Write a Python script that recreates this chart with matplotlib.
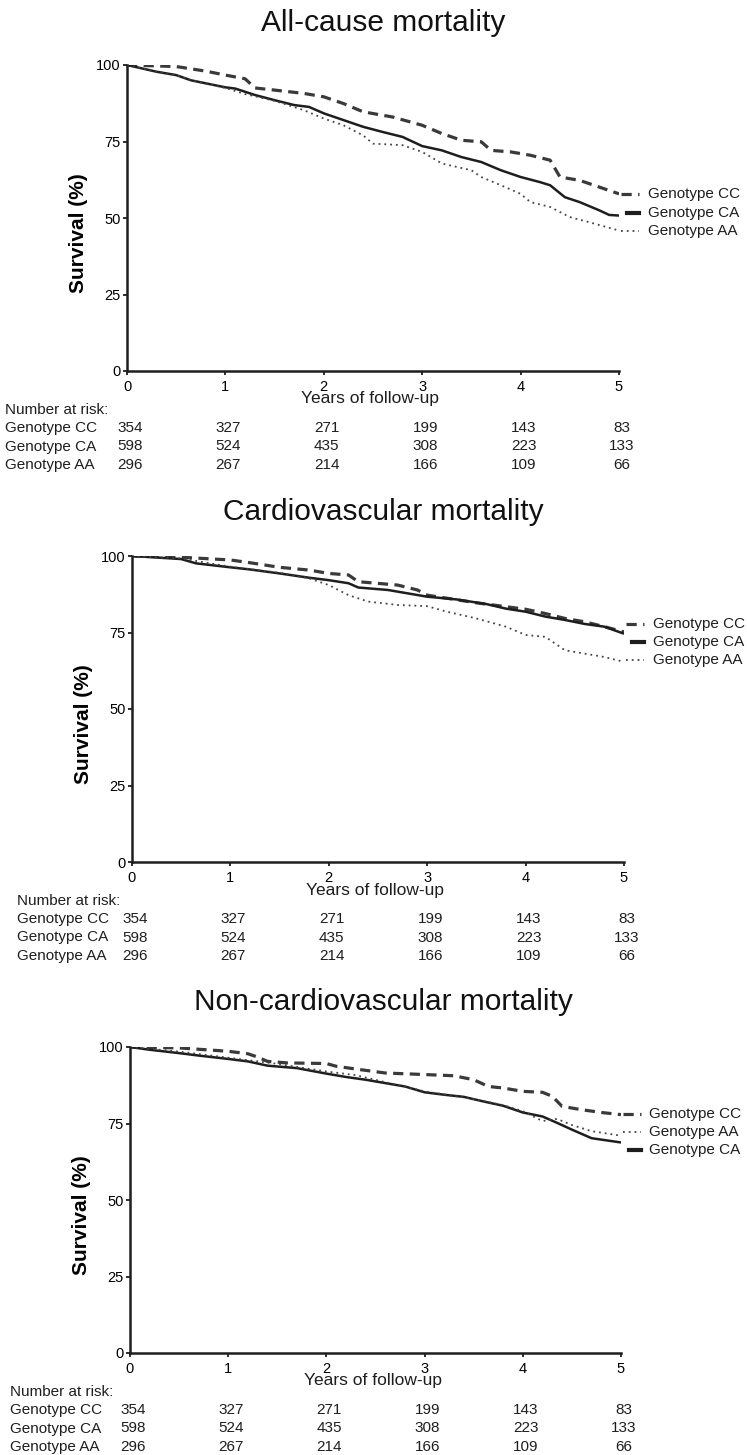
import matplotlib
matplotlib.use("Agg")
import matplotlib.pyplot as plt
import matplotlib.transforms as mtransforms

plt.rcParams['font.family'] = ['Liberation Sans', 'DejaVu Sans']

titles = ['All-cause mortality', 'Cardiovascular mortality', 'Non-cardiovascular mortality']
groups = ['Genotype CC', 'Genotype CA', 'Genotype AA']
risk_cc = [354, 327, 271, 199, 143, 83]
risk_ca = [598, 524, 435, 308, 223, 133]
risk_aa = [296, 267, 214, 166, 109, 66]
years = [0, 1, 2, 3, 4, 5]

# all-cause
t_cc1 = [0, 0.2, 0.5, 0.8, 1.0, 1.2, 1.3, 1.5, 1.8, 2.0, 2.2, 2.4, 2.7, 3.0, 3.2, 3.4, 3.6, 3.7, 3.9, 4.1, 4.3, 4.4, 4.6, 4.8, 5.0]
s_cc1 = [100, 99.8, 99.5, 98.0, 96.7, 95.5, 92.5, 91.8, 90.7, 89.6, 87.4, 84.7, 83.0, 80.3, 77.6, 75.4, 74.9, 72.1, 71.6, 70.5, 68.9, 63.4, 62.3, 60.1, 57.9]
t_ca1 = [0, 0.3, 0.5, 0.65, 1.0, 1.1, 1.3, 1.5, 1.7, 1.85, 2.0, 2.2, 2.4, 2.6, 2.8, 3.0, 3.2, 3.4, 3.6, 3.8, 4.0, 4.2, 4.3, 4.45, 4.6, 4.8, 4.9, 5.0]
s_ca1 = [100, 97.8, 96.7, 95.0, 92.7, 92.3, 90.2, 88.5, 86.9, 86.3, 84.2, 82.0, 79.8, 78.1, 76.5, 73.5, 72.1, 69.9, 68.3, 65.6, 63.4, 61.7, 60.7, 56.8, 55.2, 52.5, 51.0, 50.8]
t_aa1 = [0, 0.3, 0.5, 0.65, 1.0, 1.2, 1.5, 1.8, 2.0, 2.2, 2.4, 2.5, 2.8, 3.0, 3.2, 3.5, 3.6, 3.8, 4.0, 4.1, 4.3, 4.5, 4.7, 5.0]
s_aa1 = [100, 97.8, 96.7, 95.0, 92.5, 90.5, 88.3, 85.2, 82.5, 80.3, 77.0, 74.3, 73.8, 71.6, 67.8, 65.6, 63.4, 60.7, 57.9, 55.2, 53.6, 50.3, 48.6, 45.9]

# cardiovascular
t_cc2 = [0, 0.5, 1.0, 1.2, 1.5, 1.8, 2.0, 2.2, 2.3, 2.7, 2.9, 3.0, 3.5, 4.0, 4.2, 4.4, 4.6, 4.8, 5.0]
s_cc2 = [100, 99.6, 98.7, 97.8, 96.3, 95.4, 94.3, 93.8, 91.6, 90.5, 88.9, 87.2, 84.7, 82.6, 81.2, 79.6, 78.5, 76.9, 75.2]
t_ca2 = [0, 0.5, 0.65, 1.0, 1.2, 1.5, 1.8, 2.0, 2.2, 2.3, 2.6, 2.8, 3.0, 3.3, 3.6, 3.8, 4.0, 4.2, 4.4, 4.6, 4.8, 5.0]
s_ca2 = [100, 99.0, 97.6, 96.3, 95.6, 94.3, 92.9, 92.1, 91.1, 89.7, 88.9, 87.8, 86.7, 85.8, 84.3, 82.8, 81.8, 80.2, 79.1, 77.8, 76.9, 74.6]
t_aa2 = [0, 0.5, 1.0, 1.5, 1.8, 2.0, 2.2, 2.4, 2.7, 3.0, 3.2, 3.5, 3.8, 4.0, 4.2, 4.4, 4.6, 4.8, 5.0]
s_aa2 = [100, 99.2, 96.5, 94.5, 92.7, 90.5, 87.2, 85.1, 84.0, 83.6, 81.8, 79.6, 76.9, 74.2, 73.6, 69.2, 68.1, 67.0, 65.4]

# non-cardiovascular
t_cc3 = [0, 0.5, 1.0, 1.2, 1.3, 1.4, 1.6, 2.0, 2.1, 2.3, 2.6, 3.0, 3.3, 3.5, 3.65, 3.8, 4.0, 4.2, 4.3, 4.4, 4.6, 4.8, 5.0]
s_cc3 = [100, 99.7, 98.6, 97.8, 96.7, 95.3, 94.8, 94.6, 93.7, 92.8, 91.5, 91.0, 90.6, 89.3, 87.1, 86.6, 85.5, 85.2, 83.9, 80.6, 79.5, 78.6, 77.9]
t_ca3 = [0, 0.2, 0.5, 0.7, 1.0, 1.2, 1.4, 1.7, 2.0, 2.2, 2.4, 2.6, 2.8, 3.0, 3.2, 3.4, 3.6, 3.8, 4.0, 4.2, 4.35, 4.5, 4.7, 4.85, 5.0]
s_ca3 = [100, 99.1, 98.0, 97.2, 96.1, 95.3, 93.9, 93.1, 91.3, 90.2, 89.3, 88.2, 87.1, 85.2, 84.4, 83.7, 82.2, 80.8, 78.6, 77.3, 75.2, 73.0, 70.2, 69.5, 68.8]
t_aa3 = [0, 0.5, 1.0, 1.5, 2.0, 2.3, 2.6, 3.0, 3.5, 3.8, 4.0, 4.2, 4.35, 4.5, 4.7, 5.0]
s_aa3 = [100, 98.5, 96.5, 94.5, 92.0, 90.8, 88.5, 85.5, 83.0, 81.0, 79.0, 75.8, 76.5, 74.5, 72.5, 71.0]

curves = [
    [(t_cc1, s_cc1), (t_ca1, s_ca1), (t_aa1, s_aa1)],
    [(t_cc2, s_cc2), (t_ca2, s_ca2), (t_aa2, s_aa2)],
    [(t_cc3, s_cc3), (t_ca3, s_ca3), (t_aa3, s_aa3)],
]
# y of the end labels (CC, CA, AA)
label_y = [[58.0, 51.6, 45.7], [77.7, 71.8, 66.0], [78.2, 66.2, 72.1]]

W, H = 747, 1455
fig = plt.figure(figsize=(W / 100, H / 100), dpi=100)

ink = '#1e1e1e'
styles = [
    dict(color='#3a3a3a', lw=2.3, dashes=(3.2, 2.0)),
    dict(color=ink, lw=1.8, linestyle='-'),
    dict(color='#444444', lw=1.3, dashes=(1.0, 2.2)),
]

# axes boxes in pixels: left, right, top, bottom
boxes = [(127, 619, 65, 371), (132, 624, 556, 862), (130, 621, 1047, 1353)]
title_y = [23, 512, 1002]
table_x = [5, 17, 10]

for k, (l, r, t, b) in enumerate(boxes):
    ax = fig.add_axes([l / W, 1 - b / H, (r - l) / W, (b - t) / H])
    ah = b - t
    for (tt, ss), st in zip(curves[k], styles):
        ax.plot(tt, ss, solid_capstyle='butt', **st)
    ax.set_xlim(0, 5)
    ax.set_ylim(0, 100)
    for side in ['top', 'right']:
        ax.spines[side].set_visible(False)
    for side in ['left', 'bottom']:
        ax.spines[side].set_linewidth(1.8)
        ax.spines[side].set_color(ink)
    ax.set_xticks(years)
    ax.set_yticks([0, 25, 50, 75, 100])
    ax.tick_params(axis='both', length=3, width=1.3, color=ink, labelsize=10.5, pad=1.5)
    ax.tick_params(axis='x', pad=3.5)
    ax.set_ylabel('Survival (%)', fontsize=15, fontweight='bold')
    ax.yaxis.set_label_coords(-39 / (r - l), 0.45)

    # end labels with short keys
    for i, st in enumerate(styles):
        yv = label_y[k][i]
        x0 = 5.08 if i == 1 else 5.02
        key = dict(st)
        if i == 1:
            key['lw'] = 3.0
        ax.plot([x0, 5.2], [yv, yv], clip_on=False, **key)
        ax.text(5.29, yv, groups[i], fontsize=11, va='center', ha='left', color=ink)

    xt = ax.get_xaxis_transform()
    ax.text(2.47, -28 / ah, 'Years of follow-up', transform=xt, fontsize=12.5,
            ha='center', va='center', color=ink)

    bt = mtransforms.blended_transform_factory(fig.transFigure, ax.transAxes)
    ax.text(table_x[k] / W, -39 / ah, 'Number at risk:', transform=bt,
            fontsize=11, ha='left', va='center', color=ink)
    for j, (name, row) in enumerate(zip(groups, [risk_cc, risk_ca, risk_aa])):
        yy = -(57 + 18.5 * j) / ah
        ax.text(table_x[k] / W, yy, name, transform=bt, fontsize=11,
                ha='left', va='center', color=ink)
        for x, n in zip(years, row):
            ax.text(x + 0.03, yy, str(n), transform=xt, fontsize=11,
                    ha='center', va='center', color=ink)

    fig.text(383 / W, 1 - title_y[k] / H, titles[k], fontsize=21.5,
             ha='center', va='center', color='#111111')

fig.savefig('out.png', dpi=100)
